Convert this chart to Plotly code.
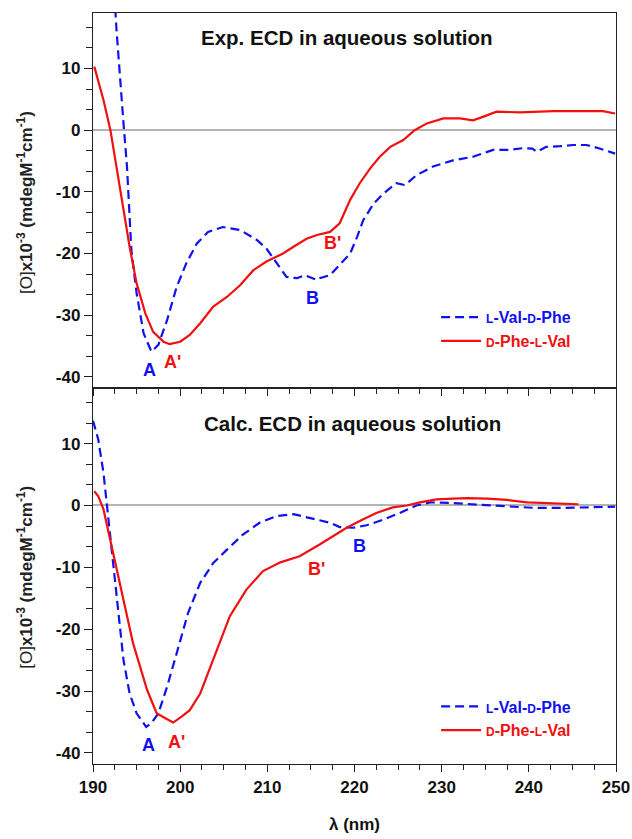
import plotly.graph_objects as go

# ---------------- data ----------------
# Experimental ECD, L-Val-D-Phe (blue dashed)
exp_lvdp_x = [192.45, 192.7, 193.5, 193.9, 194.4, 195.0, 195.8, 196.7, 197.5, 198.5, 199.6,
              200.7, 201.9, 203.2, 204.9, 206.9, 208.8, 209.9, 211.1, 212.2, 213.4, 214.3,
              215.7, 216.0, 217.2, 218.3, 219.5, 220.3, 221.0, 222.2, 223.3, 224.8, 225.8,
              227.1, 229.0, 231.3, 233.6, 235.9, 237.8, 239.4, 240.4, 240.9, 242.0, 243.6,
              245.1, 246.6, 248.2, 249.9]
exp_lvdp_y = [22.0, 16.2, 1.1, -5.9, -19.4, -26.4, -32.9, -35.9, -34.8, -30.8, -25.4,
              -21.6, -18.4, -16.5, -15.7, -16.2, -17.8, -19.2, -21.6, -23.8, -24.0, -23.5,
              -24.3, -24.0, -23.5, -21.9, -20.0, -17.3, -14.6, -11.9, -10.3, -8.6, -8.9,
              -7.3, -5.9, -4.9, -4.3, -3.2, -3.2, -2.9, -3.0, -3.5, -2.7, -2.6,
              -2.4, -2.4, -3.0, -3.8]
# Experimental ECD, D-Phe-L-Val (red solid)
exp_dplv_x = [190.15, 190.6, 191.2, 192.0, 192.7, 193.5, 194.2, 195.0, 196.0, 196.9, 198.1,
              198.8, 200.0, 201.1, 202.3, 203.8, 205.4, 206.9, 208.4, 209.9, 211.8, 213.0,
              214.5, 215.7, 217.2, 218.3, 219.5, 220.6, 221.8, 222.9, 224.1, 225.6, 226.9,
              228.3, 230.2, 232.1, 233.6, 234.8, 236.3, 239.0, 242.8, 246.6, 248.5, 249.9]
exp_dplv_y = [10.3, 8.1, 4.9, 0.0, -5.9, -12.4, -18.9, -24.8, -29.7, -32.7, -34.3,
              -34.7, -34.3, -33.2, -31.3, -28.6, -27.0, -25.1, -22.7, -21.3, -20.0, -18.9,
              -17.6, -17.0, -16.5, -15.1, -11.3, -8.6, -6.2, -4.3, -2.7, -1.6, 0.0,
              1.1, 1.9, 1.9, 1.6, 2.2, 3.0, 2.9, 3.1, 3.1, 3.1, 2.7]
# Calculated ECD, L-Val-D-Phe (blue dashed)
calc_lvdp_x = [190.0, 190.6, 191.2, 191.6, 192.1, 192.7, 193.5, 194.2, 195.0, 196.1, 196.7,
               197.5, 198.5, 199.6, 200.9, 202.3, 203.8, 205.4, 207.2, 209.1, 211.1, 213.0,
               214.9, 216.0, 217.2, 218.3, 219.9, 221.4, 223.3, 225.2, 227.1, 228.7, 231.3,
               234.4, 237.8, 240.9, 243.6, 246.6, 249.9]
calc_lvdp_y = [13.7, 10.7, 5.3, -0.1, -7.1, -15.2, -25.0, -30.4, -33.6, -35.8, -35.2,
               -33.6, -29.3, -23.9, -17.4, -12.5, -9.3, -7.1, -4.7, -2.8, -1.7, -1.4,
               -2.0, -2.4, -2.8, -3.5, -3.6, -3.2, -2.3, -1.2, 0.0, 0.5, 0.4,
               0.1, -0.2, -0.4, -0.4, -0.3, -0.2]
# Calculated ECD, D-Phe-L-Val (red solid)
calc_dplv_x = [190.15, 190.6, 191.2, 191.8, 192.5, 193.5, 194.6, 196.2, 197.3, 198.3, 199.2,
               200.2, 201.1, 202.3, 203.8, 205.7, 207.6, 209.5, 211.5, 213.7, 216.0, 217.6,
               219.1, 220.6, 222.5, 224.4, 226.0, 227.5, 229.4, 231.3, 232.9, 235.2, 237.5,
               239.8, 242.8, 245.7]
calc_dplv_y = [2.3, 1.5, -0.6, -4.4, -9.3, -15.2, -22.3, -29.8, -33.6, -34.4, -35.1,
               -34.1, -33.1, -30.4, -25.0, -17.9, -13.6, -10.6, -9.2, -8.2, -6.3, -4.9,
               -3.6, -2.5, -1.2, -0.3, 0.0, 0.5, 1.0, 1.1, 1.2, 1.1, 0.9,
               0.5, 0.3, 0.2]

series_names = ["L-Val-D-Phe", "D-Phe-L-Val"]
panel_titles = ["Exp. ECD in aqueous solution", "Calc. ECD in aqueous solution"]
x_title = "λ (nm)"
y_tick_vals = [-40, -30, -20, -10, 0, 10]
y_tick_text = ["-40", "-30", "-20", "-10", "0", "10"]
x_tick_vals = [190, 200, 210, 220, 230, 240, 250]
x_tick_text = ["190", "200", "210", "220", "230", "240", "250"]

# band labels: (text, x, y, colour index)
exp_labels = [("A", 196.5, -38.9, 0), ("A'", 199.1, -37.6, 1),
              ("B", 215.2, -27.2, 0), ("B'", 217.5, -18.3, 1)]
calc_labels = [("A", 196.4, -38.7, 0), ("A'", 199.6, -38.2, 1),
               ("B", 220.6, -6.6, 0), ("B'", 215.6, -10.2, 1)]

# ---------------- styling ----------------
BLUE = "#1010f0"
RED = "#f01010"
FONT = "Liberation Sans, Arial, sans-serif"
colors = [BLUE, RED]


def smallcaps_name(name, color):
    parts = []
    for ch_part in name.split("-"):
        if ch_part in ("L", "D"):
            parts.append("<span style='font-size:12px'>%s</span>" % ch_part)
        else:
            parts.append(ch_part)
    return "<span style='color:%s'>%s</span>" % (color, "-".join(parts))


fig = go.Figure()

panels = [
    (exp_lvdp_x, exp_lvdp_y, exp_dplv_x, exp_dplv_y, "x", "y", "legend"),
    (calc_lvdp_x, calc_lvdp_y, calc_dplv_x, calc_dplv_y, "x2", "y2", "legend2"),
]
for bx, by, rx, ry, xa, ya, lg in panels:
    fig.add_trace(go.Scatter(x=bx, y=by, mode="lines", xaxis=xa, yaxis=ya, legend=lg,
                             name=smallcaps_name(series_names[0], BLUE),
                             line=dict(color=BLUE, width=2.2, dash="9px,5px")))
    fig.add_trace(go.Scatter(x=rx, y=ry, mode="lines", xaxis=xa, yaxis=ya, legend=lg,
                             name=smallcaps_name(series_names[1], RED),
                             line=dict(color=RED, width=2.2)))

split = 0.5007
axis_common = dict(showline=True, linecolor="#222222", linewidth=1.3, mirror=True,
                   showgrid=False, ticks="outside", tickcolor="#222222", automargin=False,
                   tickfont=dict(family=FONT, size=17, color="#111111", weight="bold"))
xcommon = dict(axis_common, range=[190, 250], tickmode="array", tickvals=x_tick_vals,
               ticktext=x_tick_text, ticklen=7,
               minor=dict(dtick=2.5, tick0=190, ticklen=5, ticks="outside", tickcolor="#222222"),
               zeroline=False)
ycommon = dict(axis_common, range=[-41.8, 19.0], tickmode="array", tickvals=y_tick_vals,
               ticktext=y_tick_text, ticklen=8,
               minor=dict(dtick=10 / 3, tick0=0, ticklen=6, ticks="outside", tickcolor="#222222"),
               zeroline=True, zerolinecolor="#b4b4b4", zerolinewidth=2)

legend_common = dict(bgcolor="rgba(0,0,0,0)", borderwidth=0, xanchor="left", yanchor="middle",
                     font=dict(family=FONT, size=16, weight="bold"), tracegroupgap=0,
                     itemwidth=40)

fig.update_layout(
    width=632, height=839,
    margin=dict(l=93, r=16, t=13, b=75),
    paper_bgcolor="white", plot_bgcolor="white",
    xaxis=dict(xcommon, anchor="y", showticklabels=False),
    yaxis=dict(ycommon, anchor="x", domain=[split, 1]),
    xaxis2=dict(xcommon, anchor="y2",
                title=dict(text=x_title, font=dict(family=FONT, size=17, color="#111111", weight="bold"),
                           standoff=22)),
    yaxis2=dict(ycommon, anchor="x2", domain=[0, split]),
    legend=dict(legend_common, x=0.656, y=0.579),
    legend2=dict(legend_common, x=0.656, y=0.0606),
    showlegend=True,
)

annotations = []
for title, tx, ty in [(panel_titles[0], 0.486, 0.968), (panel_titles[1], 0.497, 0.453)]:
    annotations.append(dict(text=title, x=tx, y=ty, xref="paper", yref="paper",
                            showarrow=False, xanchor="center", yanchor="middle",
                            font=dict(family=FONT, size=20.5, color="#111111", weight="bold")))
for ty in (0.747, 0.248):
    annotations.append(dict(text="[O]<b>x10<sup>-3</sup> (mdegM<sup>-1</sup>cm<sup>-1</sup>)</b>",
                            x=-0.13, y=ty, xref="paper", yref="paper", textangle=-90,
                            showarrow=False, xanchor="center", yanchor="middle",
                            font=dict(family=FONT, size=17, color="#222222")))
for labels, xr, yr in [(exp_labels, "x", "y"), (calc_labels, "x2", "y2")]:
    for txt, lx, ly, ci in labels:
        annotations.append(dict(text=txt, x=lx, y=ly, xref=xr, yref=yr, showarrow=False,
                                font=dict(family=FONT, size=18, color=colors[ci], weight="bold")))
fig.update_layout(annotations=annotations)

fig.write_html("out.html", config={"displayModeBar": False},
               post_script="document.body.style.margin='0';document.body.style.overflow='hidden';")
